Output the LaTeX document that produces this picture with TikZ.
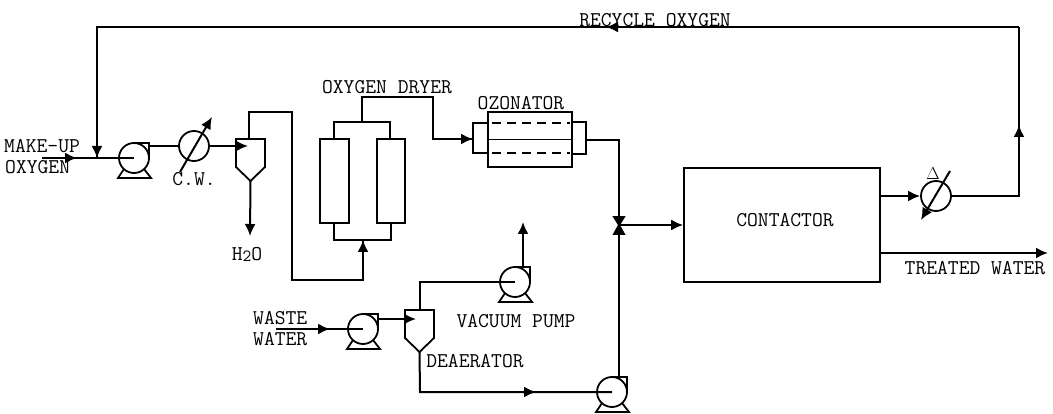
\documentclass[tikz,border=0pt]{standalone}
\usetikzlibrary{arrows.meta,calc}
\tikzset{
  pipe/.style={line width=2pt,line join=miter},
  tip/.style={pipe,-{Latex[length=12pt,width=11pt]}},
  vessel/.style={draw,line width=1.7pt,rectangle,inner sep=0pt,fill=white},
  round/.style={draw,line width=1.8pt,circle,inner sep=0pt,minimum size=30pt,fill=white},
  lab/.style={font=\fontsize{21}{23}\selectfont\ttfamily,inner sep=0pt,align=left},
  thin part/.style={line width=1.8pt,line join=miter},
}
\newcommand{\pumpat}[3]{%
  \coordinate (#1) at (#2,#3);
  \draw[thin part] ($(#1)+(-10,11)$) -- ($(#1)+(-16,20)$) -- ($(#1)+(17,20)$) -- ($(#1)+(10,11)$);
  \draw[thin part] ($(#1)+(0,-15)$) -- ($(#1)+(15,-15)$) -- ($(#1)+(15,0)$);
  \node[round] (#1c) at (#1) {};
}
\newcommand{\sepat}[5]{%
  \coordinate (#1tl) at (#2,#4);
  \coordinate (#1tr) at (#3,#4);
  \coordinate (#1sr) at (#3,#5);
  \coordinate (#1sl) at (#2,#5);
  \coordinate (#1pt) at ({(#2+#3)/2},{#5+14});
  \draw[thin part] (#1tl) -- (#1tr) -- (#1sr) -- (#1pt) -- (#1sl) -- cycle;
}
\begin{document}
\begin{tikzpicture}[x=1pt,y=-1pt]
\useasboundingbox (0,0) rectangle (1053,414);
\coordinate (rT) at (1019,27);
\coordinate (rL) at (97,27);
\coordinate (rJ) at (97,158);
\coordinate (mIn) at (42,158);
\coordinate (s1a) at (249,112);
\coordinate (s1b) at (292,112);
\coordinate (s1c) at (292,280);
\coordinate (s1d) at (363,280);
\coordinate (h2o) at (250,236);
\coordinate (dryL) at (334,122);
\coordinate (dryR) at (390,122);
\coordinate (dbL) at (334,240);
\coordinate (dbR) at (391,240);
\coordinate (dbM) at (363,240);
\coordinate (dtM) at (362,122);
\coordinate (d1) at (362,97);
\coordinate (d2) at (433,97);
\coordinate (d3) at (433,139);
\coordinate (ozIn) at (473,139);
\coordinate (ozOut) at (586,140);
\coordinate (oz2) at (619,140);
\coordinate (vT) at (619,217);
\coordinate (vB) at (619,234);
\coordinate (vC) at (619,225);
\coordinate (wIn) at (276,329);
\coordinate (wOut) at (416,319);
\coordinate (vac1) at (420,282);
\coordinate (vacTip) at (523,222);
\coordinate (de1) at (420,392);
\coordinate (trOut) at (1048,253);
\node[vessel,minimum width=196pt,minimum height=114pt] (contactor) at (782,225) {};
\node[vessel,minimum width=29pt,minimum height=84pt] (colL) at (334.5,181) {};
\node[vessel,minimum width=28pt,minimum height=84pt] (colR) at (391,181) {};
\node[vessel,minimum width=15pt,minimum height=30pt] (capL) at (480.5,138) {};
\node[vessel,minimum width=14pt,minimum height=32pt] (capR) at (579,138) {};
\node[vessel,minimum width=84pt,minimum height=55pt] (oz) at (530,139.5) {};
\draw[thin part] (oz.west) -- (oz.east);
\coordinate (oa1) at (492,123); \coordinate (oa2) at (570,123);
\coordinate (ob1) at (492,153); \coordinate (ob2) at (570,153);
\draw[line width=2.6pt,dash pattern=on 9pt off 6pt] (oa1) -- (oa2);
\draw[line width=2.6pt,dash pattern=on 9pt off 6pt] (ob1) -- (ob2);
\sepat{s1}{236}{265}{139}{167}
\sepat{s2}{405}{434}{310}{338}
\draw[pipe] (colL.north -| dryL) -- (dryL) -- (dryR) -- (colR.north -| dryR);
\draw[pipe] (colL.south -| dbL) -- (dbL) -- (dbR) -- (colR.south -| dbR);
\draw[pipe] (rT) -- (rL) -- (rJ);
\draw[tip] (rL) -- (rJ);
\coordinate (rA) at (606,27);
\draw[tip] (rT) -- (rA);
\pumpat{p1}{134}{158}
\pumpat{p2}{363}{329}
\pumpat{p3}{515}{282}
\pumpat{p4}{612}{392}
\node[round] (hx1) at (194,146) {};
\node[round] (hx2) at (936,196) {};
\draw[pipe] (mIn) -- (p1);
\coordinate (mA) at (77,158);
\draw[tip] (mIn) -- (mA);
\draw[pipe] (p1c.center) ++(14,-12) -- (hx1.west);
\draw[tip] (hx1.east) -- (hx1.east -| s1tl) -- ++(12,0);
\draw[pipe] (s1tl -| s1a) -- (s1a) -- (s1b) -- (s1c) -- (s1d) -- (dbM);
\draw[tip] (s1d) -- (dbM);
\draw[tip] (s1pt) -- (h2o);
\draw[pipe] (dtM) -- (d1) -- (d2) -- (d3) -- (ozIn);
\draw[tip] (d3) -- (ozIn);
\draw[pipe] (ozOut) -- (oz2) -- (vT);
\draw[thin part,fill=black] (614,217) -- (624,217) -- (vC) -- cycle;
\draw[thin part,fill=black] (614,234) -- (624,234) -- (vC) -- cycle;
\draw[tip] (vC) -- (contactor.west);
\draw[pipe] (p4c.center) ++(7,-15) -- (vB);
\draw[pipe] (wIn) -- (p2);
\coordinate (wA) at (330,329);
\draw[tip] (wIn) -- (wA);
\draw[tip] (p2c.center) ++(14,-10) -- (wOut);
\draw[pipe] (s2tl -| vac1) -- (vac1) -- (p3);
\draw[tip] (p3c.center) ++(8,-15) -- (vacTip);
\draw[pipe] (s2pt) -- (de1) -- (p4);
\coordinate (deA) at (536,392);
\draw[tip] (de1) -- (deA);
\coordinate (p1e) at (134,158); \coordinate (p2e) at (363,329); \coordinate (p3e) at (515,282); \coordinate (p4e) at (612,392);
\coordinate (q1) at (120,158); \coordinate (q2) at (349,329); \coordinate (q3) at (500,282); \coordinate (q4) at (597,392);
\draw[pipe] (q1) -- (p1e);
\draw[pipe] (q2) -- (p2e);
\draw[pipe] (q3) -- (p3e);
\draw[pipe] (q4) -- (p4e);
\coordinate (a1) at (180,172); \coordinate (a2) at (212,117);
\coordinate (b1) at (950,171); \coordinate (b2) at (921,220);
\draw[tip] (a1) -- (a2);
\draw[tip] (b1) -- (b2);
\draw[tip] (contactor.east |- hx2) -- (hx2.west);
\coordinate (e1) at (1019,196); \coordinate (e2) at (1019,125);
\draw[pipe] (hx2.east) -- (e1) -- (rT);
\draw[tip] (e1) -- (e2);
\draw[tip] (contactor.east |- trOut) -- (trOut);
\node[lab] (t1) at (655,20) {RECYCLE OXYGEN};
\node[lab,anchor=west] (t2) at (4,146) {MAKE-UP};
\node[lab,anchor=west] (t3) at (5,167) {OXYGEN};
\node[lab] (t4) at (194,179) {C.W.};
\node[lab] (t5) at (247,254) {H\raisebox{-1pt}{\fontsize{17}{17}\selectfont 2}O};
\node[lab] (t6) at (387,87) {OXYGEN DRYER};
\node[lab] (t7) at (521,103) {OZONATOR};
\node[lab,anchor=west] (t8) at (253,318) {WASTE};
\node[lab,anchor=west] (t9) at (253,339) {WATER};
\node[lab] (t10) at (516,321) {VACUUM PUMP};
\node[lab] (t11) at (475,361) {DEAERATOR};
\node[lab] (t12) at (785,220) {CONTACTOR};
\node[lab] (t13) at (975,268) {TREATED WATER};
\node[inner sep=0pt,font=\fontsize{16}{16}\selectfont] (t14) at (933,174) {$\Delta$};
\end{tikzpicture}
\end{document}
